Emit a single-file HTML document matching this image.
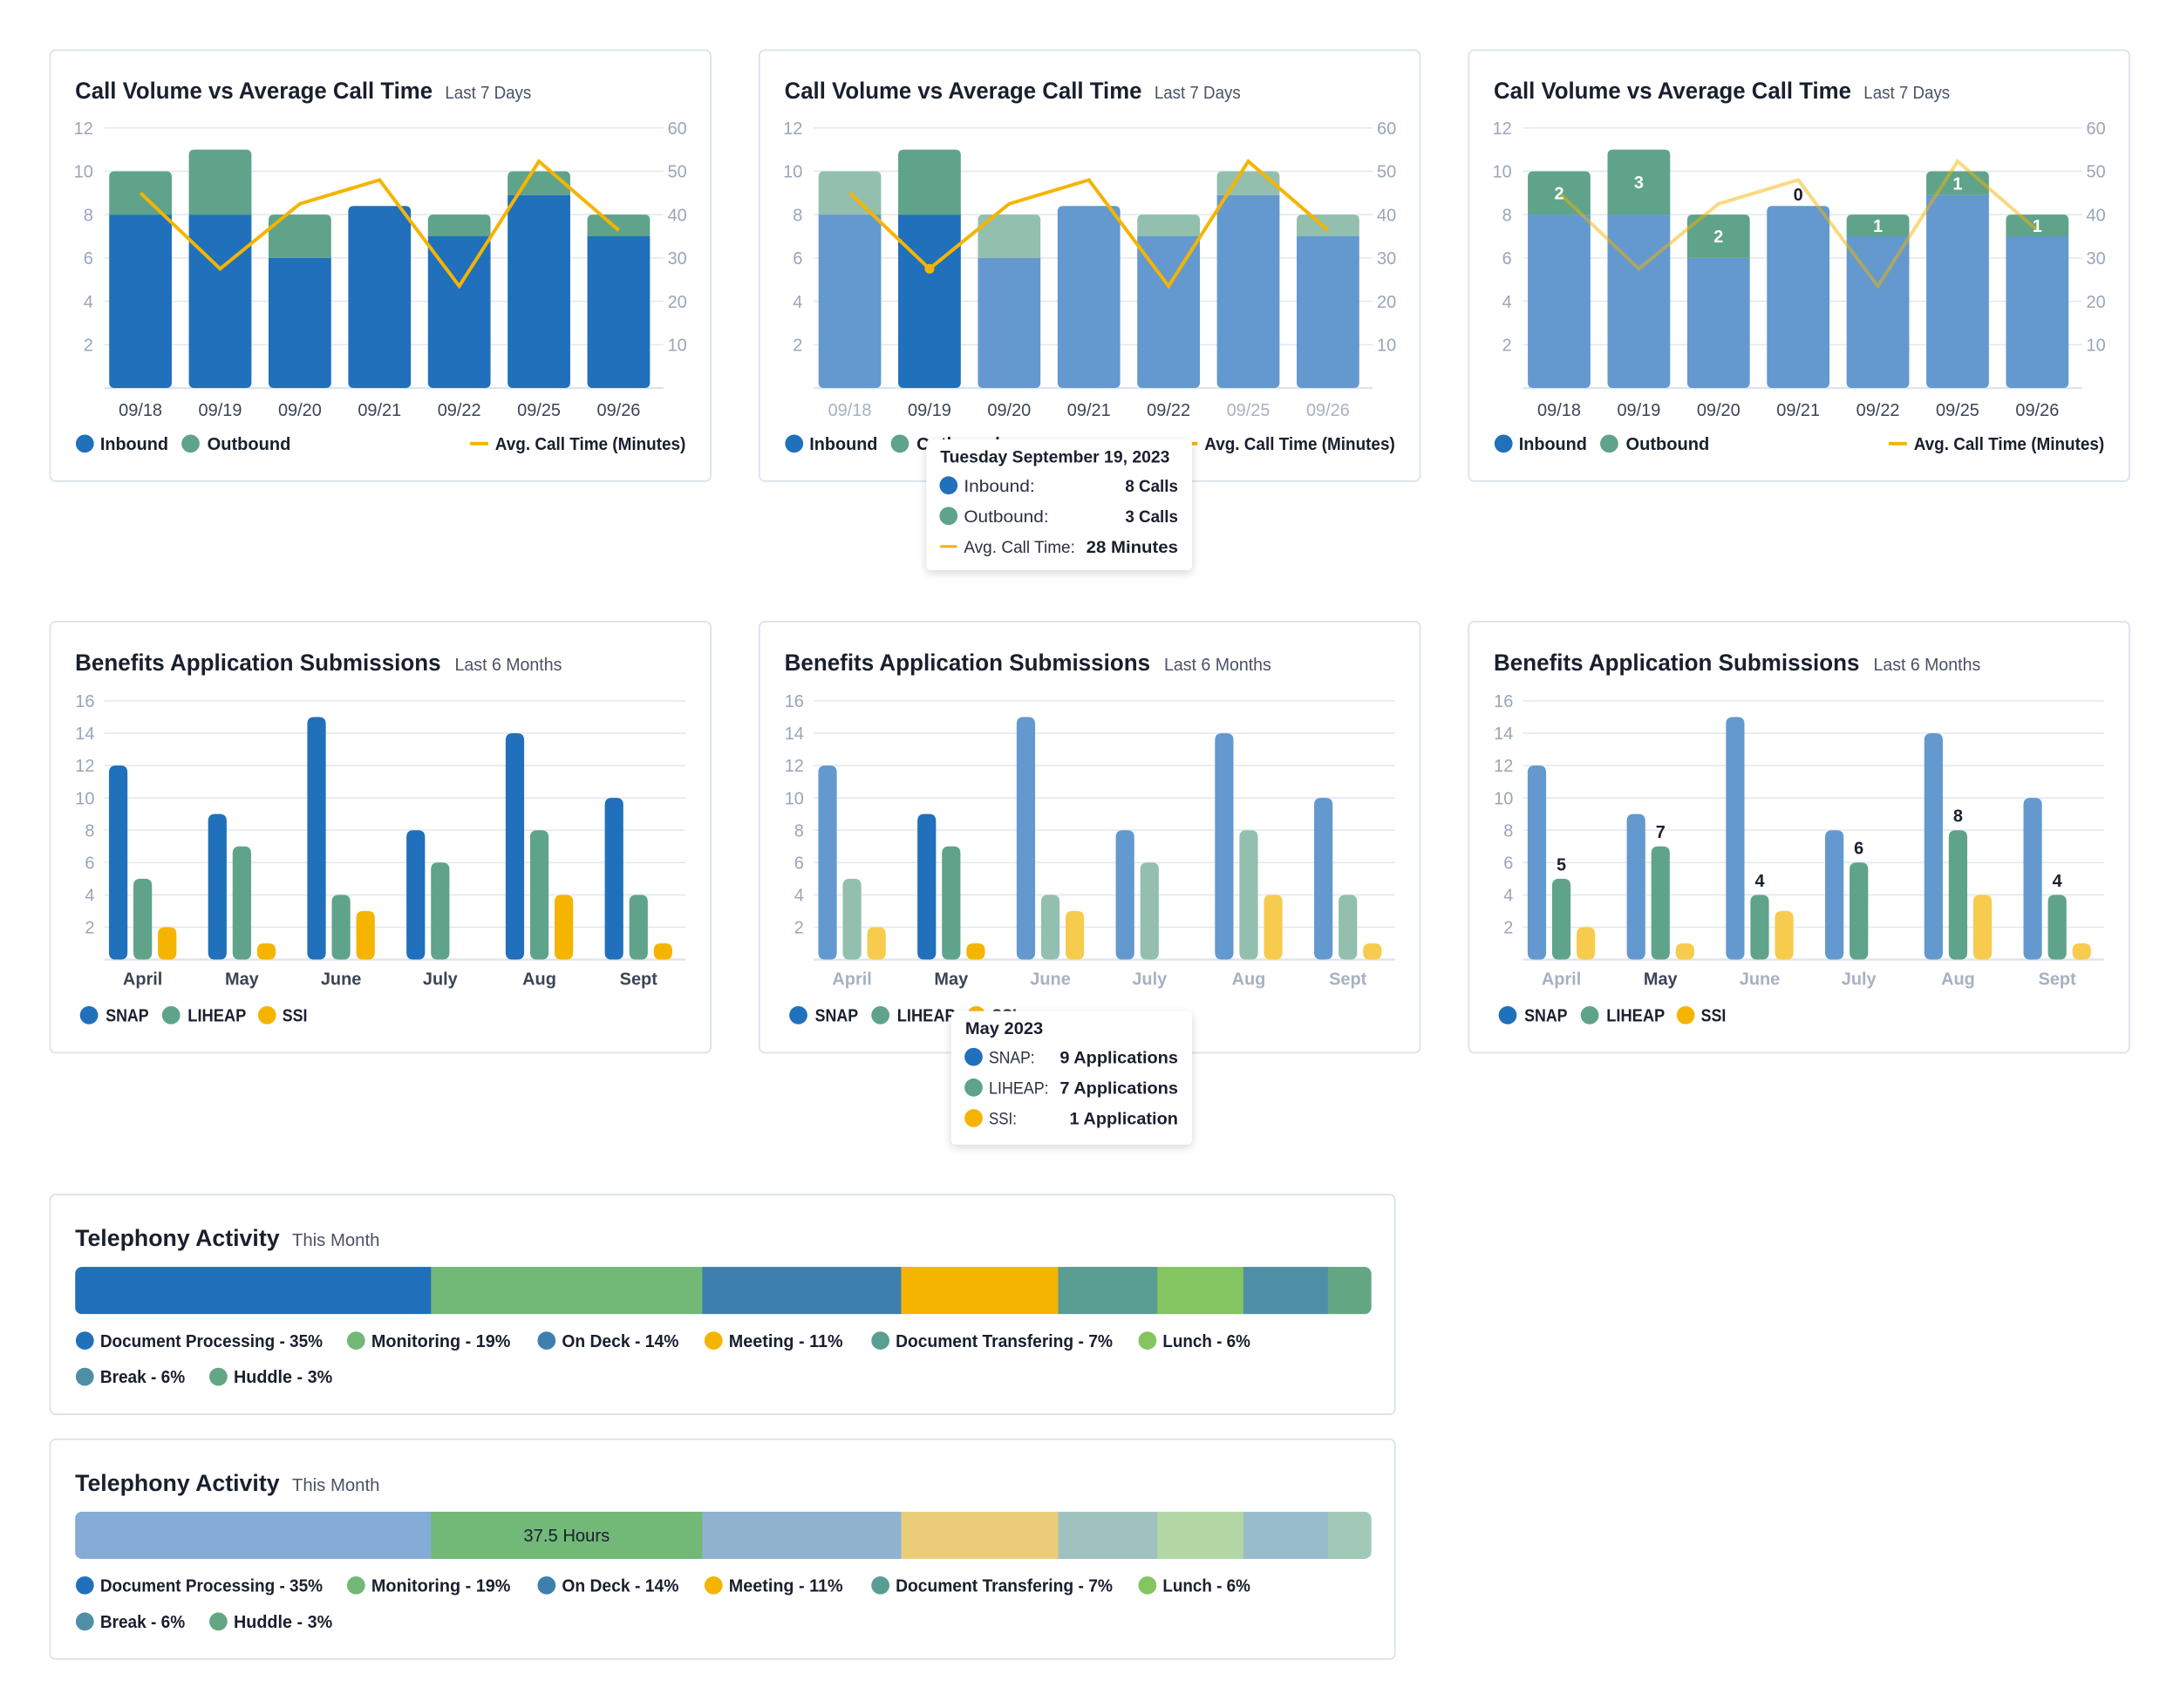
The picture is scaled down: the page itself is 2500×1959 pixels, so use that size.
<!DOCTYPE html>
<html><head><meta charset="utf-8">
<style>
html,body{margin:0;padding:0;background:#fff;}
svg{display:block;font-family:"Liberation Sans",sans-serif;}
</style></head>
<body>
<svg id="root" xmlns="http://www.w3.org/2000/svg" width="2500" height="1959" viewBox="0 0 1567.4 1228.2" preserveAspectRatio="none">
<defs>
<filter id="shadow" x="-20%" y="-20%" width="140%" height="150%"><feDropShadow dx="0" dy="2" stdDeviation="3" flood-color="#000" flood-opacity="0.16"/></filter>
</defs>
</svg>
<script>
// ---- Call volume data ----
const callDates = ['09/18','09/19','09/20','09/21','09/22','09/25','09/26'];
const inboundCalls = [8, 8, 6, 8.4, 7, 8.9, 7];
const outboundCalls = [2, 3, 2, 0, 1, 1.1, 1];
const avgCallTime = [45, 27.5, 42.5, 48, 23.5, 52.3, 36.4];
const callLeftTicks = [2, 4, 6, 8, 10, 12];
const callRightTicks = [10, 20, 30, 40, 50, 60];
// ---- Benefits data ----
const months = ['April','May','June','July','Aug','Sept'];
const snapApps = [12, 9, 15, 8, 14, 10];
const liheapApps = [5, 7, 4, 6, 8, 4];
const ssiApps = [2, 1, 3, 0, 4, 1];
const benefitTicks = [2, 4, 6, 8, 10, 12, 14, 16];
// ---- Telephony data ----
const teleCategories = ['Document Processing','Monitoring','On Deck','Meeting','Document Transfering','Lunch','Break','Huddle'];
const teleHours = [49.2, 37.5, 27.5, 21.7, 13.7, 11.9, 11.7, 6.0];
const telePercents = [35, 19, 14, 11, 7, 6, 6, 3];

const NS = 'http://www.w3.org/2000/svg';
const root = document.getElementById('root');
const BLUE='#2070bb', GREEN='#5fa38a', YEL='#f5b400', BLUE_F='#6399ce', GREEN_F='#93bfaf', YEL_F='#f7cb4d';
const teleColors = ['#2070bb','#72b877','#3d80b0','#f5b400','#5a9d92','#84c461','#4e8fa6','#63a683'];
const teleFaded = ['#84acd6','#72b877','#8fb3cf','#ebcd79','#9fc2bf','#b3d7a4','#98bccb','#a2c9b8'];

function mk(tag, parent){ const e=document.createElementNS(NS,tag); parent.appendChild(e); return e; }
function set(e,o){ for(const k in o) e.setAttribute(k,o[k]); return e; }
function txt(parent, x, y, s, size, fill, weight, anchor, len, name, inter){
  const t = mk('text', parent);
  set(t,{x:x,y:y,'font-size':size,fill:fill,'font-weight':weight||'normal','text-anchor':anchor||'start'});
  if(len){ t.setAttribute('textLength',len); t.setAttribute('lengthAdjust','spacingAndGlyphs'); }
  t.textContent = s;
  
  
  return t;
}
function rpath(x,y,w,h,rt,rb){
  rt=Math.min(rt,h/2,w/2); rb=Math.min(rb,h/2,w/2);
  return `M${x},${y+rt} Q${x},${y} ${x+rt},${y} L${x+w-rt},${y} Q${x+w},${y} ${x+w},${y+rt} L${x+w},${y+h-rb} Q${x+w},${y+h} ${x+w-rb},${y+h} L${x+rb},${y+h} Q${x},${y+h} ${x},${y+h-rb} Z`;
}
function card(x,y,w,h,name){
  const g = mk('g', root);
  
  
  const r = mk('rect', g);
  set(r,{x:x,y:y,width:w,height:h,rx:4,fill:'#fff',stroke:'#dde3ec','stroke-width':1.2});
  
  
  return g;
}
function dot(parent,cx,cy,r,fill,name){
  const c = mk('circle', parent);
  set(c,{cx:cx,cy:cy,r:r,fill:fill});
  
  
  return c;
}

// ================= CALL VOLUME CHART =================
function callChart(cx, cy, mode){
  const g = card(cx, cy, 475, 310, 'call-volume-card');
  txt(g, cx+18, cy+35, 'Call Volume vs Average Call Time', 17, '#1a1f2e', 'bold', 'start', 257, 'chart-title');
  txt(g, cx+284, cy+35, 'Last 7 Days', 12.5, '#4a5163', 'normal', 'start', 62, 'chart-subtitle');
  const y0 = cy+243, yTop = cy+56;
  const yL = v => y0 - v*(y0-yTop)/12;
  const yR = v => y0 - v*(y0-yTop)/60;
  const xC = i => cx+65 + i*57.3;
  const base = mk('line', g);
  set(base,{x1:cx+39,x2:cx+441,y1:y0,y2:y0,stroke:'#dde4ef','stroke-width':1.5});
  
  
  callLeftTicks.forEach((t,k)=>{
    const l = mk('line', g);
    set(l,{x1:cx+39,x2:cx+441,y1:yL(t),y2:yL(t),stroke:'#e3e8f0','stroke-width':1});
    
    
    txt(g, cx+31, yL(t)+4.5, String(t), 12.5, '#9aa5b8', 'normal', 'end', null, 'y-tick-label');
  });
  callRightTicks.forEach(t=>{
    txt(g, cx+444, yR(t)+4.5, String(t), 12.5, '#9aa5b8', 'normal', 'start', null, 'y2-tick-label');
  });
  callDates.forEach((d,i)=>{
    const w = 45, x = xC(i)-w/2;
    const hiIn = mode==='normal' || (mode==='hover' && i===1);
    const hiOut = mode==='normal' || mode==='labels' || (mode==='hover' && i===1);
    const inTop = yL(inboundCalls[i]), outTop = yL(inboundCalls[i]+outboundCalls[i]);
    const hasOut = outboundCalls[i] > 0;
    const pIn = mk('path', g);
    set(pIn,{d:rpath(x,inTop,w,y0-inTop,hasOut?0:4,4),fill:hiIn?BLUE:BLUE_F});
    
    
    if(hasOut){
      const pOut = mk('path', g);
      set(pOut,{d:rpath(x,outTop,w,inTop-outTop,4,0),fill:hiOut?GREEN:GREEN_F});
      
      
    }
    const faded = mode==='hover' && (i===0||i===5||i===6);
    txt(g, xC(i), cy+263, d, 12.5, faded?'#a7b1c2':'#3b4456', 'normal', 'middle', null, 'x-tick-label');
  });
  const pts = avgCallTime.map((v,i)=>xC(i)+','+yR(v)).join(' ');
  const pl = mk('polyline', g);
  set(pl,{points:pts,fill:'none',stroke:YEL,'stroke-width':2.5,'stroke-linejoin':'miter','stroke-opacity':mode==='labels'?0.5:1});
  
  
  if(mode==='labels'){
    callDates.forEach((d,i)=>{
      if(outboundCalls[i]>0){
        const mid = (yL(inboundCalls[i]) + yL(inboundCalls[i]+outboundCalls[i]))/2;
        txt(g, xC(i), mid+4.5, String(Math.round(outboundCalls[i])), 12.5, '#fff', 'bold', 'middle', null, 'outbound-value-label');
      } else {
        txt(g, xC(i), yL(inboundCalls[i])-4, '0', 12.5, '#1a1f2e', 'bold', 'middle', null, 'outbound-value-label');
      }
    });
  }
  if(mode==='hover'){
    dot(g, xC(1), yR(avgCallTime[1]), 3.5, YEL, 'hover-point');
  }
  const ly = cy+283;
  dot(g, cx+25, ly, 6.5, BLUE, 'legend-inbound-dot');
  txt(g, cx+36, ly+4.5, 'Inbound', 12.5, '#1a1f2e', 'bold', 'start', 49, 'legend-inbound', true);
  dot(g, cx+101, ly, 6.5, GREEN, 'legend-outbound-dot');
  txt(g, cx+113, ly+4.5, 'Outbound', 12.5, '#1a1f2e', 'bold', 'start', 60, 'legend-outbound', true);
  const ll = mk('line', g);
  set(ll,{x1:cx+302,x2:cx+315,y1:ly,y2:ly,stroke:YEL,'stroke-width':2.5});
  
  
  txt(g, cx+320, ly+4.5, 'Avg. Call Time (Minutes)', 12.5, '#1a1f2e', 'bold', 'start', 137, 'legend-avg-call-time', true);
  return g;
}

// ================= BENEFITS CHART =================
function benefitsChart(cx, cy, mode){
  const g = card(cx, cy, 475, 310, 'benefits-card');
  txt(g, cx+18, cy+35, 'Benefits Application Submissions', 17, '#1a1f2e', 'bold', 'start', 263, 'chart-title');
  txt(g, cx+291, cy+35, 'Last 6 Months', 12.5, '#4a5163', 'normal', 'start', 77, 'chart-subtitle');
  const y0 = cy+243, yTop = cy+57;
  const yB = v => y0 - v*(y0-yTop)/16;
  const xG = i => cx+66.6 + i*71.3;
  const base = mk('line', g);
  set(base,{x1:cx+39,x2:cx+457,y1:y0,y2:y0,stroke:'#dde4ef','stroke-width':1.5});
  
  
  benefitTicks.forEach(t=>{
    const l = mk('line', g);
    set(l,{x1:cx+39,x2:cx+457,y1:yB(t),y2:yB(t),stroke:'#e3e8f0','stroke-width':1});
    
    
    txt(g, cx+32, yB(t)+4.5, String(t), 12.5, '#9aa5b8', 'normal', 'end', null, 'y-tick-label');
  });
  const series = [[snapApps,BLUE,BLUE_F,-17.6,'snap'],[liheapApps,GREEN,GREEN_F,0,'liheap'],[ssiApps,YEL,YEL_F,17.6,'ssi']];
  months.forEach((m,i)=>{
    series.forEach(([arr,c,cf,off,nm],s)=>{
      const v = arr[i]; if(v<=0) return;
      let hi = mode==='normal' || (mode==='hover' && i===1) || (mode==='labels' && s===1);
      const w = 13.3, x = xG(i)+off-w/2, top = yB(v);
      const p = mk('path', g);
      set(p,{d:rpath(x,top,w,y0-top,5,5),fill:hi?c:cf});
      
      
    });
    if(mode==='labels'){
      txt(g, xG(i), yB(liheapApps[i])-6, String(liheapApps[i]), 12.5, '#1a1f2e', 'bold', 'middle', null, 'liheap-value-label');
    }
    const faded = mode!=='normal' && i!==1;
    txt(g, xG(i), cy+261, m, 12.5, faded?'#a7b1c2':'#3b4456', 'bold', 'middle', null, 'x-tick-label');
  });
  const ly = cy+283;
  dot(g, cx+28, ly, 6.5, BLUE, 'legend-snap-dot');
  txt(g, cx+40, ly+4.5, 'SNAP', 12.5, '#1a1f2e', 'bold', 'start', 31, 'legend-snap', true);
  dot(g, cx+87, ly, 6.5, GREEN, 'legend-liheap-dot');
  txt(g, cx+99, ly+4.5, 'LIHEAP', 12.5, '#1a1f2e', 'bold', 'start', 42, 'legend-liheap', true);
  dot(g, cx+156, ly, 6.5, YEL, 'legend-ssi-dot');
  txt(g, cx+167, ly+4.5, 'SSI', 12.5, '#1a1f2e', 'bold', 'start', 18, 'legend-ssi', true);
  return g;
}

// ================= TELEPHONY =================
function teleChart(cx, cy, mode){
  const g = card(cx, cy, 967, 158, 'telephony-card');
  txt(g, cx+18, cy+37, 'Telephony Activity', 17, '#1a1f2e', 'bold', 'start', 147, 'chart-title');
  txt(g, cx+174, cy+37, 'This Month', 12.5, '#4a5163', 'normal', 'start', 63, 'chart-subtitle');
  const bx = cx+18, bw = 932, by = cy+52, bh = 34;
  const total = teleHours.reduce((a,b)=>a+b,0);
  const clip = mk('clipPath', g);
  const cid = 'clip'+cy;
  clip.setAttribute('id', cid);
  const cr = mk('rect', clip);
  set(cr,{x:bx,y:by,width:bw,height:bh,rx:5});
  let acc = 0;
  teleHours.forEach((h,i)=>{
    const x = bx + acc/total*bw, w = h/total*bw;
    acc += h;
    const r = mk('rect', g);
    set(r,{x:x,y:by,width:w+0.5,height:bh,fill:mode==='hover' && i!==1 ? teleFaded[i] : teleColors[i],'clip-path':'url(#'+cid+')'});
    
    
    if(mode==='hover' && i===1){
      txt(g, x+w/2, by+bh/2+4.5, teleHours[i]+' Hours', 12.5, '#1a1f2e', 'normal', 'middle', 62, 'segment-value-label');
    }
  });
  const legX = [25,220,357,477,597,789,25,121];
  const legW = [160,100,84,82,156,63,61,71];
  teleCategories.forEach((c,i)=>{
    const row = i<6 ? 0 : 1;
    const ly = cy + 105 + row*26;
    dot(g, cx+legX[i], ly, 6.5, teleColors[i], 'legend-dot');
    txt(g, cx+legX[i]+11, ly+4.5, c+' - '+telePercents[i]+'%', 12.5, '#1a1f2e', 'bold', 'start', legW[i], 'legend-entry', true);
  });
  return g;
}

function tooltip(x,y,w,h,title,titleLen,rows,name){
  const g = mk('g', root);
  
  
  const r = mk('rect', g);
  set(r,{x:x,y:y,width:w,height:h,rx:3,fill:'#fff',filter:'url(#shadow)'});
  
  
  txt(g, x+10, y+16.5, title, 12, '#1a1f2e', 'bold', 'start', titleLen, 'tooltip-title');
  rows.forEach((rw,k)=>{
    const ry = y+33+k*22;
    if(rw.line){
      const l = mk('line', g);
      set(l,{x1:x+10,x2:x+22,y1:ry,y2:ry,stroke:rw.c,'stroke-width':2});
      
      
    } else {
      dot(g, x+16, ry, 6.5, rw.c, 'tooltip-dot');
    }
    txt(g, x+27, ry+4.5, rw.label, 12, '#2a3040', 'normal', 'start', rw.ll, 'tooltip-label');
    txt(g, x+w-10, ry+4.5, rw.value, 12, '#1a1f2e', 'bold', 'end', rw.vl, 'tooltip-value');
  });
}

callChart(36, 36, 'normal');
callChart(546, 36, 'hover');
callChart(1056, 36, 'labels');
benefitsChart(36, 447, 'normal');
benefitsChart(546, 447, 'hover');
benefitsChart(1056, 447, 'labels');
teleChart(36, 859, 'normal');
teleChart(36, 1035, 'hover');

tooltip(666, 316, 191, 94, 'Tuesday September 19, 2023', 165, [
  {c:BLUE,label:'Inbound:',ll:51,value:inboundCalls[1]+' Calls',vl:38},
  {c:GREEN,label:'Outbound:',ll:61,value:outboundCalls[1]+' Calls',vl:38},
  {c:YEL,line:true,label:'Avg. Call Time:',ll:80,value:Math.round(avgCallTime[1]+0.5)+' Minutes',vl:66}
], 'call-tooltip');
tooltip(684, 727, 173, 96, 'May 2023', 56, [
  {c:BLUE,label:'SNAP:',ll:33,value:snapApps[1]+' Applications',vl:85},
  {c:GREEN,label:'LIHEAP:',ll:43,value:liheapApps[1]+' Applications',vl:85},
  {c:YEL,label:'SSI:',ll:20,value:ssiApps[1]+' Application',vl:78}
], 'benefits-tooltip');
</script>
</body></html>
